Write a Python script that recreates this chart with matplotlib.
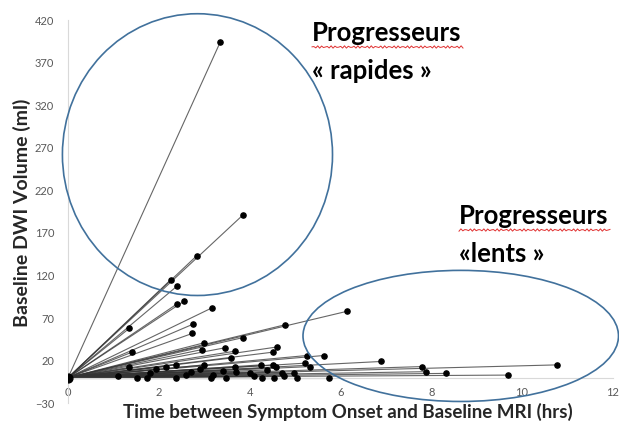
import matplotlib
matplotlib.use("Agg")
import matplotlib.pyplot as plt
from matplotlib.patches import Ellipse
import numpy as np

# Temps entre symptome et IRM (h) / volume DWI (ml)
time_hrs = [3.35, 3.85, 2.83, 2.26, 2.41, 2.56, 2.41, 3.17, 2.76, 2.74,
            1.35, 1.41, 4.77, 6.15, 3.85, 3.00, 2.95, 3.45, 3.67, 3.59,
            4.60, 4.52, 5.63, 5.26, 6.90, 5.22, 5.33, 7.80, 10.78, 7.89,
            8.33, 9.70, 1.35, 1.93, 2.15, 2.37, 2.70, 3.00, 3.41, 3.20,
            3.67, 3.70, 4.24, 4.52, 4.39, 4.57, 4.00, 4.72, 4.97, 5.04,
            5.74, 1.52, 1.74, 2.37, 3.15, 3.48, 4.28, 4.54, 2.60, 1.10,
            4.10, 4.75, 1.80, 2.90]
dwi_ml = [394, 191, 143, 115, 108, 90, 87, 82, 63, 52,
          58, 30, 62, 78, 47, 41, 33, 35, 31, 23,
          36, 30, 26, 26, 19, 17, 13, 13, 15, 7,
          5, 3, 12, 10, 13, 15, 7, 15, 8, 3,
          13, 7, 15, 15, 9, 12, 6, 6, 5, 0,
          0, -1, -1, -1, -1, -1, -1, -1, 3, 2,
          2, 2, 5, 10]

y_ticks = [-30, 20, 70, 120, 170, 220, 270, 320, 370, 420]
x_ticks = [0, 2, 4, 6, 8, 10, 12]

plt.rcParams['font.family'] = ['Lato', 'DejaVu Sans']

fig = plt.figure(figsize=(6.19, 4.28), dpi=100)
ax = fig.add_axes([0.110, 0.058, 0.880, 0.895])

for x, y in zip(time_hrs, dwi_ml):
    ax.plot([0, x], [0, y], color="#333333", lw=0.8, alpha=0.75, zorder=2)
ax.scatter(time_hrs, dwi_ml, s=14, color="black", zorder=3)
ax.scatter([0], [0], s=40, color="black", zorder=3)

ax.set_xlim(0, 12)
ax.set_ylim(-30, 420)
ax.set_xticks(x_ticks)
ax.set_yticks(y_ticks)
ax.tick_params(length=0, labelsize=8, colors="#595959")
ax.tick_params(axis="y", pad=10)
ax.tick_params(axis="x", pad=7)

for s in ["top", "right"]:
    ax.spines[s].set_visible(False)
ax.spines["left"].set_color("#d9d9d9")
ax.spines["bottom"].set_color("#d9d9d9")
ax.spines["bottom"].set_position(("data", 0))

# ellipses
blue = "#41719c"
ax.add_patch(Ellipse((2.85, 262), 5.95, 331, fill=False, ec=blue, lw=1.2, clip_on=False, zorder=4))
ax.add_patch(Ellipse((8.65, 49), 6.95, 154, fill=False, ec=blue, lw=1.2, clip_on=False, zorder=4))

fig.text(348 / 619, 1 - 412 / 428, "Time between Symptom Onset and Baseline MRI (hrs)",
         ha="center", va="center", fontsize=13.5, fontweight="bold", color="#262626")
fig.text(22 / 619, 1 - 213 / 428, "Baseline DWI Volume (ml)", rotation=90,
         ha="center", va="center", fontsize=14, fontweight="bold", color="#262626")

def label(x0, y0, l1, l2):
    fig.text(x0 / 619, 1 - y0 / 428, l1, fontsize=18.5, fontweight="bold", color="black", va="center")
    fig.text(x0 / 619, 1 - (y0 + 38) / 428, l2, fontsize=18.5, fontweight="bold", color="black", va="center")
    # soulignement ondule (correcteur)
    t = np.linspace(x0, x0 + 151, 80)
    w = 1 - (y0 + 14 + 1.2 * np.sin(t * 1.4)) / 428
    fig.add_artist(plt.Line2D(t / 619, w, color="#e03030", lw=0.7))

label(312, 33, "Progresseurs", "« rapides »")
label(459, 216, "Progresseurs", "«lents »")

fig.savefig("out.png", dpi=100)
